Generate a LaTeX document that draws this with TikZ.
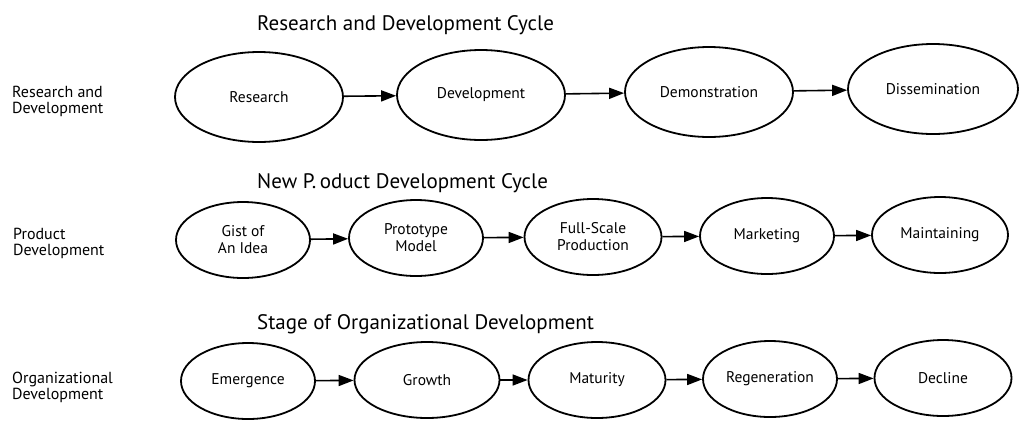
\documentclass[tikz,border=0pt]{standalone}
\usepackage{fontspec}
\setmainfont{PT Sans}
\usetikzlibrary{arrows.meta,shapes.geometric}
\newcommand{\stagefont}{\fontsize{15.5}{17}\selectfont}
\newcommand{\sidefont}{\fontsize{16}{16}\selectfont}
\newcommand{\cyclefont}{\fontsize{21}{22}\selectfont}
\tikzset{
    % ellipse for one stage of a cycle
    stage/.style={
        ellipse, draw=black, line width=1.8pt, inner sep=0pt,
        font=\stagefont, align=center
    },
    bigstage/.style={stage, minimum width=168pt, minimum height=90pt},
    smallstage/.style={stage, minimum width=134pt, minimum height=76pt},
    % arrow between two stages
    flow/.style={line width=1.6pt, -{Triangle[length=15pt,width=11pt]}},
    % headings
    cycletitle/.style={font=\cyclefont, anchor=west, inner sep=0pt},
    sidelabel/.style={font=\sidefont, align=left, anchor=west, inner sep=0pt},
}
\begin{document}
\begin{tikzpicture}[x=1pt,y=-1pt]
  \useasboundingbox (0,0) rectangle (1025,440);

  % --- research and development ---
  \node[cycletitle] (T1) at (257,25) {Research and Development Cycle};
  \node[sidelabel] (L1) at (12,101) {Research and\\Development};
  \node[bigstage] (res) at (259,97) {Research};
  \node[bigstage] (dev) at (481,95) {Development};
  \node[bigstage] (dem) at (709,92) {Demonstration};
  \node[bigstage, minimum width=170pt] (dis) at (933,89) {Dissemination};

  % --- new product ---
  \node[cycletitle] (T2) at (257,183) {New P.\,oduct Development Cycle};
  \node[sidelabel] (L2) at (13,243) {Product\\Development};
  \node[smallstage] (gist) at (243,240) {Gist of\\An Idea};
  \node[smallstage] (proto) at (416,238) {Prototype\\Model};
  \node[smallstage, minimum width=137pt] (full) at (593,237) {Full-Scale\\Production};
  \node[smallstage] (mark) at (767,236) {Marketing};
  \node[smallstage, minimum width=136pt] (main) at (940,235) {Maintaining};

  % --- organizational ---
  \node[cycletitle] (T3) at (257,324) {Stage of Organizational Development};
  \node[sidelabel] (L3) at (12,387) {Organizational\\Development};
  \node[smallstage] (emer) at (248,381) {Emergence};
  \node[smallstage, minimum width=145pt] (grow) at (427,380) {Growth};
  \node[smallstage, minimum width=137pt] (matu) at (597,380) {Maturity};
  \node[smallstage] (rege) at (770,379) {Regeneration};
  \node[smallstage, minimum width=137pt] (decl) at (943,378) {Decline};

  % arrows
  \foreach \a/\b in {res/dev,dev/dem,dem/dis,gist/proto,proto/full,full/mark,mark/main,
                     emer/grow,grow/matu,matu/rege,rege/decl}
    \draw[flow] (\a) -- (\b);
\end{tikzpicture}
\end{document}
